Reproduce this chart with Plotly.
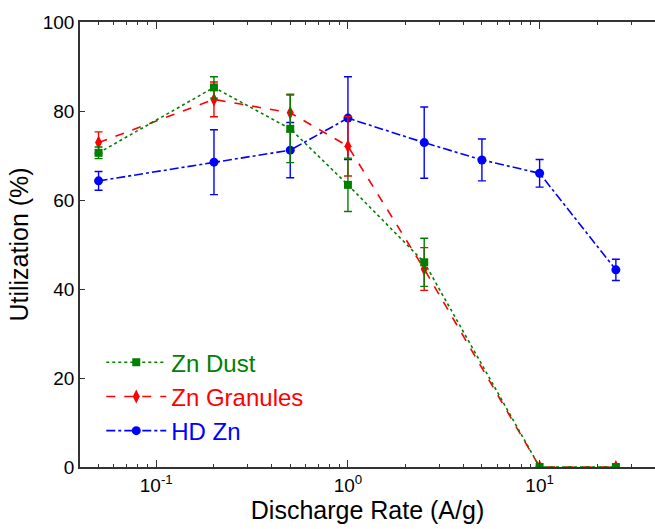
import plotly.graph_objects as go
import numpy as np

# Discharge rates (A/g)
rate_dust = [0.05, 0.2, 0.5, 1.0, 2.5, 10, 25]
util_dust = [70.6, 85.3, 76.0, 63.4, 46.0, 0, 0]
err_dust = [1.3, 2.4, 7.6, 6.0, 5.4, 0, 0]

rate_gran = [0.05, 0.2, 0.5, 1.0, 2.5, 10, 25]
util_gran = [72.9, 82.6, 79.6, 72.1, 44.5, 0, 0]
err_gran = [2.4, 3.9, 4.2, 6.7, 4.8, 0, 0]

rate_hd = [0.05, 0.2, 0.5, 1.0, 2.5, 5, 10, 25]
util_hd = [64.3, 68.5, 71.2, 78.4, 72.9, 69.0, 66.0, 44.3]
err_hd = [2.1, 7.3, 6.2, 9.3, 8.0, 4.7, 3.1, 2.4]

x_tickvals = [0.1, 1, 10]
x_ticktext = ["10<sup>-1</sup>", "10<sup>0</sup>", "10<sup>1</sup>"]
y_ticks = [0, 20, 40, 60, 80, 100]

FONT = "Liberation Sans, Arial, sans-serif"

fig = go.Figure()

def add(name, x, y, e, color, dash, symbol, size, rank):
    fig.add_trace(go.Scatter(
        x=x, y=y, mode="lines+markers",
        name=f"<span style='color:{color}'>{name}</span>",
        legendrank=rank, legendgroup=name,
        line=dict(color=color, width=1.6, dash=dash),
        marker=dict(color=color, symbol=symbol, size=size, line=dict(width=0)),
        error_y=dict(type="data", array=e, visible=True, color=color,
                     thickness=1.4, width=4),
    ))

add("HD Zn", rate_hd, util_hd, err_hd, "#0000ff", "dashdot", "circle", 9, 3)
add("Zn Granules", rate_gran, util_gran, err_gran, "#ff0000", "dash", "diamond-tall", 10, 2)
add("Zn Dust", rate_dust, util_dust, err_dust, "#008000", "dot", "square", 8, 1)

fig.update_layout(
    width=655, height=529,
    margin=dict(l=80, r=0, t=22, b=62),
    paper_bgcolor="white", plot_bgcolor="white",
    font=dict(family=FONT, size=19, color="black"),
    showlegend=True,
    legend=dict(x=0.037, y=0.285, xanchor="left", yanchor="top",
                bgcolor="rgba(0,0,0,0)", font=dict(size=24, family=FONT),
                traceorder="grouped", tracegroupgap=0, itemwidth=60),
    xaxis=dict(type="log", range=[np.log10(0.04), np.log10(40)],
               showline=True, linecolor="#333", linewidth=1.5, mirror="ticks",
               ticks="inside", ticklen=7, tickcolor="#333", tickwidth=1,
               tickvals=x_tickvals, ticktext=x_ticktext,
               showgrid=False, zeroline=False,
               minor=dict(dtick="D1", ticks="inside", ticklen=3.5, tickcolor="#333", showgrid=False),
               title=dict(text="Discharge Rate (A/g)", font=dict(size=25, family=FONT), standoff=4),
               tickfont=dict(size=19, family=FONT)),
    yaxis=dict(range=[0, 100], tickvals=y_ticks, showline=True, linecolor="#333",
               linewidth=1.5, ticks="inside", ticklen=5, tickcolor="#333",
               showgrid=False, zeroline=False,
               title=dict(text="Utilization (%)", font=dict(size=25, family=FONT), standoff=7),
               tickfont=dict(size=19, family=FONT)),
    yaxis2=dict(range=[0, 100], tickvals=y_ticks, overlaying="y", side="right",
                showline=False, ticks="inside", ticklen=5, tickcolor="#333",
                showticklabels=False, showgrid=False, zeroline=False),
)

fig.write_html("out.html")
